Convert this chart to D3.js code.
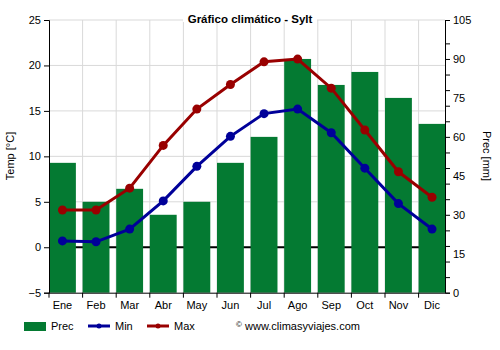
<!DOCTYPE html>
<html><head><meta charset="utf-8">
<script src="https://cdn.jsdelivr.net/npm/d3@7"></script>
<style>body{margin:0;background:#fff}svg{font-family:"Liberation Sans",Arial,sans-serif}</style>
</head><body><svg id="c" width="500" height="350"></svg>
<script>
const months = ["Ene","Feb","Mar","Abr","May","Jun","Jul","Ago","Sep","Oct","Nov","Dic"];
const prec = [50,35,40,30,35,50,60,90,80,85,75,65];
const tmin = [0.7,0.6,2.0,5.1,8.9,12.2,14.7,15.2,12.6,8.7,4.8,2.0];
const tmax = [4.1,4.1,6.5,11.2,15.2,17.9,20.4,20.7,17.5,12.9,8.3,5.5];
const tempTicks = [-5,0,5,10,15,20,25];
const precTicks = [0,15,30,45,60,75,90,105];
const precMinor = [0,6,12,18,24,30,36,42,48,54,60,66,72,78,84,90,96,105];

const svg = d3.select("#c");
const L = 49, R = 445, T = 20, B = 292.7;
const x = d3.scaleBand().domain(months).range([L, L + 12*33.6]).paddingInner(0).paddingOuter(0);
const bw = x.step()*0.8;
const yT = d3.scaleLinear().domain([-5,25]).range([B,T]);
const yP = d3.scaleLinear().domain([0,105]).range([B,T]);
const grid = "#d9d9d9";
const g = svg.append("g");

// grid
g.selectAll(".hg").data(tempTicks.slice(1)).join("line")
  .attr("x1",L).attr("x2",R).attr("y1",d=>yT(d)).attr("y2",d=>yT(d))
  .attr("stroke",grid).attr("stroke-width",1);
g.selectAll(".vg").data(months.slice(1)).join("line")
  .attr("x1",d=>x(d)).attr("x2",d=>x(d)).attr("y1",T).attr("y2",B)
  .attr("stroke",grid).attr("stroke-width",1);
// zero line
g.append("line").attr("x1",L).attr("x2",R).attr("y1",yT(0)).attr("y2",yT(0))
  .attr("stroke","#000").attr("stroke-width",2);
// bars
g.selectAll(".bar").data(prec).join("rect")
  .attr("x",(d,i)=>x(months[i])).attr("width",bw)
  .attr("y",d=>yP(d)).attr("height",d=>B-yP(d)).attr("fill","#047a32");

// lines
function series(data,color){
  const line = d3.line().x((d,i)=>x(months[i])+bw/2).y(d=>yT(d));
  g.append("path").datum(data).attr("d",line).attr("fill","none")
    .attr("stroke",color).attr("stroke-width",3);
  g.selectAll(null).data(data).join("circle")
    .attr("cx",(d,i)=>x(months[i])+bw/2).attr("cy",d=>yT(d)).attr("r",4.5).attr("fill",color);
}
series(tmin,"#000099");
series(tmax,"#990000");

// axes
const axL = d3.axisLeft(yT).tickValues(tempTicks).tickSize(5).tickPadding(3);
const aL = svg.append("g").attr("transform",`translate(${L},0)`).call(axL);
const axR = d3.axisRight(yP).tickValues(precMinor).tickSize(5).tickFormat("");
const aR = svg.append("g").attr("transform",`translate(${R},0)`).call(axR);
const aR2 = svg.append("g").attr("transform",`translate(${R},0)`)
  .call(d3.axisRight(yP).tickValues(precTicks).tickSize(0).tickPadding(8));
aR2.select(".domain").remove();
const axB = d3.axisBottom(x).tickSize(5).tickSizeOuter(0).tickPadding(4);
const aB = svg.append("g").attr("transform",`translate(0,${B})`).call(axB);
aB.selectAll(".tick line").attr("transform",`translate(${-x.bandwidth()/2},0)`);
aB.selectAll(".tick text").attr("transform",`translate(${bw/2 - x.bandwidth()/2},0)`);
aB.select(".domain").attr("d",`M${L},0.5H${R}`);
[aL,aR,aR2,aB].forEach(a=>{
  a.selectAll("text").attr("font-size",11).attr("fill","#000").attr("font-family","Liberation Sans, Arial, sans-serif");
  a.selectAll("line").attr("stroke","#000");
  a.select(".domain").attr("stroke","#000");
});

// title
svg.append("rect").attr("x",183).attr("y",8).attr("width",134).attr("height",14).attr("fill","#fff");
svg.append("text").attr("x",250).attr("y",23).attr("text-anchor","middle")
  .attr("font-size",11.5).attr("font-weight","bold").text("Gráfico climático - Sylt");
// axis titles
svg.append("text").attr("transform","translate(14,156) rotate(-90)").attr("text-anchor","middle")
  .attr("font-size",11).text("Temp [°C]");
svg.append("text").attr("transform","translate(483,156) rotate(90)").attr("text-anchor","middle")
  .attr("font-size",11).text("Prec [mm]");

// legend
const lg = svg.append("g").attr("font-size",11);
lg.append("rect").attr("x",24).attr("y",322).attr("width",22).attr("height",9).attr("fill","#047a32");
lg.append("text").attr("x",51).attr("y",330).text("Prec");
lg.append("line").attr("x1",88).attr("x2",110).attr("y1",326).attr("y2",326).attr("stroke","#000099").attr("stroke-width",3);
lg.append("circle").attr("cx",99).attr("cy",326).attr("r",2.5).attr("fill","#000099");
lg.append("text").attr("x",115).attr("y",330).text("Min");
lg.append("line").attr("x1",147).attr("x2",169).attr("y1",326).attr("y2",326).attr("stroke","#990000").attr("stroke-width",3);
lg.append("circle").attr("cx",158).attr("cy",326).attr("r",2.5).attr("fill","#990000");
lg.append("text").attr("x",174).attr("y",330).text("Max");
lg.append("text").attr("x",236).attr("y",327).attr("font-size",8).text("©");
lg.append("text").attr("x",245).attr("y",330).text("www.climasyviajes.com");
</script></body></html>
